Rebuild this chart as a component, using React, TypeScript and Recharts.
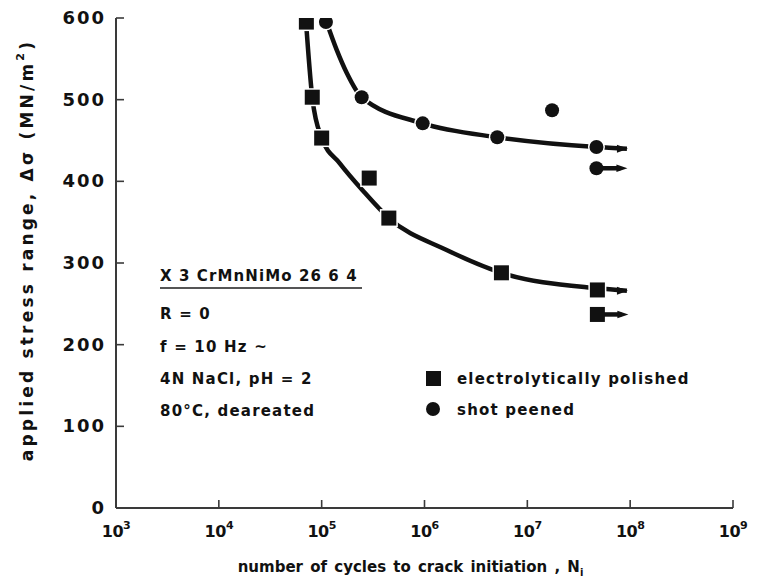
import React from 'react';
import { ComposedChart, Line, Scatter, XAxis, YAxis } from 'recharts';

// ---- data ----
const xTicks = [1e3, 1e4, 1e5, 1e6, 1e7, 1e8, 1e9];
const xTickExp = ['3', '4', '5', '6', '7', '8', '9'];
const yTicks = [0, 100, 200, 300, 400, 500, 600];

// electrolytically polished (squares)
const polishedN = [7.1e4, 8.1e4, 1.0e5, 2.9e5, 4.5e5, 5.6e6, 4.8e7];
const polishedS = [595, 503, 453, 404, 355, 288, 267];
const polishedRunoutN = [4.8e7];
const polishedRunoutS = [237];
// fitted curve for polished
const polishedCurveN = [7.0e4, 8.1e4, 1.0e5, 1.5e5, 2.5e5, 4.5e5, 1.64e6, 5.6e6, 4.8e7, 9.3e7];
const polishedCurveS = [600, 503, 453, 422, 389, 355, 316, 288, 269, 266];

// shot peened (circles)
const peenedN = [1.1e5, 2.45e5, 9.6e5, 5.1e6, 1.74e7, 4.7e7];
const peenedS = [595, 503, 471, 454, 487, 442];
const peenedRunoutN = [4.7e7];
const peenedRunoutS = [416];
// fitted curve for shot peened
const peenedCurveN = [1.08e5, 1.4e5, 1.75e5, 2.45e5, 9.6e5, 5.1e6, 4.7e7, 9.3e7];
const peenedCurveS = [600, 561, 533, 503, 471, 454, 442, 440];

const zip = (n: number[], s: number[]) => n.map((v, i) => ({ n: v, s: s[i] }));

const polishedData = zip(polishedN, polishedS);
const polishedRunout = zip(polishedRunoutN, polishedRunoutS);
const polishedCurve = zip(polishedCurveN, polishedCurveS);
const peenedData = zip(peenedN, peenedS);
const peenedRunout = zip(peenedRunoutN, peenedRunoutS);
const peenedCurve = zip(peenedCurveN, peenedCurveS);

const INK = '#111';
const FRAME = '#3a3a3a';
const FONT = '"DejaVu Sans", Verdana, sans-serif';

const W = 761;
const H = 587;
const M = { top: 18, right: 28, left: 0, bottom: 0 };
const YW = 116;
const XH = 79;
const TICK_LEN = 8;
const X_MARGIN = 14;
const Y_MARGIN = 12;

const Square = (p: any) => (
  <rect x={p.cx - 7.5} y={p.cy - 7.5} width={15} height={15} fill={INK} stroke="#fff" strokeWidth={3} paintOrder="stroke" />
);
const Circle = (p: any) => (
  <circle cx={p.cx} cy={p.cy} r={7} fill={INK} stroke="#fff" strokeWidth={3} paintOrder="stroke" />
);
const Arrow = ({ x, y }: { x: number; y: number }) => (
  <g>
    <line x1={x + 6} y1={y} x2={x + 24} y2={y} stroke={INK} strokeWidth={4.5} />
    <polygon points={`${x + 20},${y - 3.8} ${x + 31},${y} ${x + 20},${y + 3.8}`} fill={INK} />
  </g>
);
const SquareRunout = (p: any) => (
  <g>
    <Arrow x={p.cx} y={p.cy} />
    <rect x={p.cx - 7.5} y={p.cy - 7.5} width={15} height={15} fill={INK} />
  </g>
);
const CircleRunout = (p: any) => (
  <g>
    <Arrow x={p.cx} y={p.cy} />
    <circle cx={p.cx} cy={p.cy} r={7} fill={INK} />
  </g>
);

const curveDot = (len: number) => (p: any) => {
  if (p.index !== len - 1) return <g key={`d${p.index}`} />;
  return (
    <polygon
      key={`d${p.index}`}
      points={`${p.cx - 10},${p.cy - 4} ${p.cx + 1},${p.cy} ${p.cx - 10},${p.cy + 4}`}
      fill={INK}
    />
  );
};

const BottomTick = (p: any) => {
  const i = xTicks.indexOf(p.payload.value);
  const axisY = p.y - X_MARGIN;
  return (
    <g>
      <line x1={p.x} y1={axisY} x2={p.x} y2={axisY - TICK_LEN} stroke={FRAME} strokeWidth={1.6} />
      <text x={p.x} y={axisY + X_MARGIN + 15} textAnchor="middle" fontFamily={FONT} fontWeight="bold" fontSize={16} letterSpacing={-0.5} fill={INK}>
        <tspan>10</tspan>
        <tspan dy={-8} fontSize={11}>{xTickExp[i]}</tspan>
      </text>
    </g>
  );
};
const TopTick = (p: any) => (
  <line x1={p.x} y1={p.y} x2={p.x} y2={p.y + TICK_LEN} stroke={FRAME} strokeWidth={1.6} />
);
const LeftTick = (p: any) => {
  const axisX = p.x + Y_MARGIN;
  return (
    <g>
      <line x1={axisX} y1={p.y} x2={axisX + TICK_LEN} y2={p.y} stroke={FRAME} strokeWidth={1.6} />
      <text x={p.x + 2} y={p.y + 6} textAnchor="end" fontFamily={FONT} fontWeight="bold" fontSize={18} letterSpacing={2} fill={INK}>
        {p.payload.value}
      </text>
    </g>
  );
};
const RightTick = (p: any) => (
  <line x1={p.x} y1={p.y} x2={p.x - TICK_LEN} y2={p.y} stroke={FRAME} strokeWidth={1.6} />
);

const XLabel = (p: any) => {
  const vb = p.viewBox;
  const cx = vb.x + vb.width / 2 - 14;
  return (
    <text x={cx} y={572} textAnchor="middle" fontFamily={FONT} fontWeight="bold" fontSize={15} letterSpacing={0} wordSpacing={2} fill={INK}>
      <tspan>number of cycles to crack initiation , N</tspan>
      <tspan dy={4} fontSize={10}>i</tspan>
    </text>
  );
};
const YLabel = () => {
  const cx = 27;
  const cy = 250;
  return (
    <text x={cx} y={cy} transform={`rotate(-90 ${cx} ${cy})`} textAnchor="middle" dominantBaseline="central" fontFamily={FONT} fontWeight="bold" fontSize={17} letterSpacing={3.2} fill={INK}>
      <tspan>applied stress range, Δσ (MN/m</tspan>
      <tspan dy={-7} fontSize={11}>2</tspan>
      <tspan dy={7}>)</tspan>
    </text>
  );
};

const annoStyle = { fontFamily: FONT, fontWeight: 'bold' as const, fontSize: 15, fill: INK, letterSpacing: 1.2 };

export default function App() {
  return (
    <div style={{ position: 'absolute', left: 0, top: 0, width: W, height: H, background: '#fff' }}>
      <ComposedChart width={W} height={H} margin={M}>
        <XAxis
          dataKey="n"
          type="number"
          scale="log"
          domain={[1e3, 1e9]}
          ticks={xTicks}
          interval={0}
          allowDataOverflow
          height={XH}
          tickSize={0}
          tickMargin={X_MARGIN}
          tickLine={false}
          axisLine={{ stroke: FRAME, strokeWidth: 2 }}
          tick={<BottomTick />}
          label={<XLabel />}
        />
        <XAxis
          xAxisId="top"
          orientation="top"
          dataKey="n"
          type="number"
          scale="log"
          domain={[1e3, 1e9]}
          ticks={xTicks.slice(1, -1)}
          interval={0}
          allowDataOverflow
          height={0}
          tickSize={0}
          tickMargin={0}
          tickLine={false}
          axisLine={{ stroke: FRAME, strokeWidth: 2 }}
          tick={<TopTick />}
        />
        <YAxis
          dataKey="s"
          type="number"
          domain={[0, 600]}
          ticks={yTicks}
          interval={0}
          allowDataOverflow
          width={YW}
          tickSize={0}
          tickMargin={Y_MARGIN}
          tickLine={false}
          axisLine={{ stroke: FRAME, strokeWidth: 2 }}
          tick={<LeftTick />}
          label={<YLabel />}
        />
        <YAxis
          yAxisId="right"
          orientation="right"
          dataKey="s"
          type="number"
          domain={[0, 600]}
          ticks={yTicks.slice(1, -1)}
          interval={0}
          allowDataOverflow
          width={0}
          tickSize={0}
          tickMargin={0}
          tickLine={false}
          axisLine={{ stroke: FRAME, strokeWidth: 2 }}
          tick={<RightTick />}
        />
        <Line data={polishedCurve} dataKey="s" type="monotone" stroke={INK} strokeWidth={4.5} dot={curveDot(polishedCurve.length)} activeDot={false} isAnimationActive={false} />
        <Line data={peenedCurve} dataKey="s" type="monotone" stroke={INK} strokeWidth={4.5} dot={curveDot(peenedCurve.length)} activeDot={false} isAnimationActive={false} />
        <Scatter data={polishedData} dataKey="s" shape={Square} isAnimationActive={false} />
        <Scatter data={peenedData} dataKey="s" shape={Circle} isAnimationActive={false} />
        <Scatter data={polishedRunout} dataKey="s" shape={SquareRunout} isAnimationActive={false} />
        <Scatter data={peenedRunout} dataKey="s" shape={CircleRunout} isAnimationActive={false} />
      </ComposedChart>
      <svg width={W} height={H} style={{ position: 'absolute', left: 0, top: 0, pointerEvents: 'none' }}>
        <text x={160} y={281} {...annoStyle} letterSpacing={1.1}>X 3 CrMnNiMo  26  6  4</text>
        <line x1={160} y1={288} x2={362} y2={288} stroke="#555" strokeWidth={2} />
        <text x={160} y={319} {...annoStyle}>R = 0</text>
        <text x={160} y={352} {...annoStyle}>f = 10 Hz ~</text>
        <text x={160} y={384} {...annoStyle}>4N NaCl, pH = 2</text>
        <text x={160} y={416} {...annoStyle}>80°C, deareated</text>
        <rect x={426} y={371} width={15} height={15} fill={INK} />
        <text x={457} y={384} {...annoStyle}>electrolytically polished</text>
        <circle cx={433} cy={409} r={7} fill={INK} />
        <text x={457} y={415} {...annoStyle}>shot peened</text>
      </svg>
    </div>
  );
}
